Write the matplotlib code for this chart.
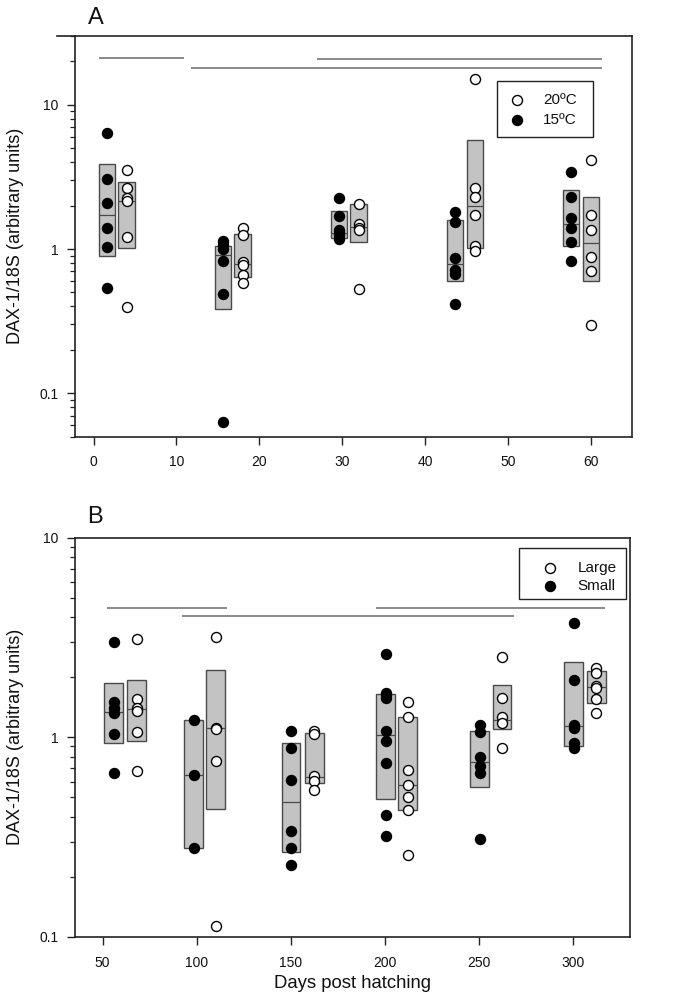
import matplotlib
matplotlib.use('Agg')
import matplotlib.pyplot as plt
from matplotlib.patches import Rectangle
from matplotlib.lines import Line2D
from matplotlib.ticker import FixedLocator, LogLocator, NullFormatter, FixedFormatter

plt.rcParams['font.family'] = ['Liberation Sans', 'DejaVu Sans']

# ---------------- Panel A data (temperature) ----------------
a_days_15 = [1.6, 15.6, 29.6, 43.6, 57.6]
a_days_20 = [4.0, 18.0, 32.0, 46.0, 60.0]
a_pts_15 = [
    [6.36, 3.07, 2.07, 1.41, 1.03, 0.533],
    [1.14, 1.07, 1.00, 0.82, 0.49, 0.0635],
    [2.26, 1.69, 1.35, 1.29, 1.25, 1.18],
    [1.81, 1.54, 0.868, 0.713, 0.676, 0.413],
    [3.42, 2.29, 1.63, 1.39, 1.12, 0.828],
]
a_box_15 = [(0.896, 1.72, 3.91), (0.381, 0.906, 1.05), (1.19, 1.29, 1.85),
            (0.605, 0.782, 1.60), (1.05, 1.50, 2.58)]
a_pts_20 = [
    [3.55, 2.65, 2.25, 2.15, 1.22, 0.397],
    [1.39, 1.25, 0.815, 0.773, 0.659, 0.577],
    [2.06, 1.48, 1.41, 1.36, 0.53],
    [15.1, 2.63, 2.29, 1.73, 1.05, 0.966],
    [4.12, 1.71, 1.36, 0.882, 0.701, 0.297],
]
a_box_20 = [(1.01, 2.17, 2.90), (0.635, 0.785, 1.28), (1.12, 1.42, 2.05),
            (1.01, 1.98, 5.73), (0.599, 1.11, 2.29)]
a_sig = [(0.6, 10.9, 21.1), (27.0, 61.4, 20.9), (11.8, 61.4, 18.1)]
a_xticks = [0, 10, 20, 30, 40, 50, 60]

# ---------------- Panel B data (size) ----------------
b_days_small = [56.0, 98.3, 150.0, 200.2, 250.3, 300.2]
b_days_large = [68.2, 110.1, 162.3, 212.0, 262.0, 312.2]
b_pts_small = [
    [3.0, 1.51, 1.40, 1.32, 1.04, 0.66],
    [1.22, 0.65, 0.28],
    [1.07, 0.888, 0.61, 0.341, 0.28, 0.23],
    [2.62, 1.67, 1.63, 1.57, 1.08, 0.96, 0.741, 0.409, 0.321],
    [1.15, 1.06, 0.795, 0.719, 0.661, 0.311],
    [3.75, 1.94, 1.15, 1.11, 0.934, 0.882],
]
b_box_small = [(0.934, 1.34, 1.88), (0.28, 0.65, 1.22), (0.267, 0.475, 0.934),
               (0.491, 1.03, 1.64), (0.562, 0.753, 1.08), (0.909, 1.14, 2.39)]
b_pts_large = [
    [3.10, 1.55, 1.41, 1.36, 1.06, 0.679],
    [3.19, 1.12, 1.10, 0.762, 0.113],
    [1.08, 1.04, 0.641, 0.603, 0.545],
    [1.50, 1.27, 0.689, 0.575, 0.503, 0.433, 0.258],
    [2.53, 1.58, 1.27, 1.18, 0.885],
    [2.22, 2.09, 1.81, 1.76, 1.55, 1.32],
]
b_box_large = [(0.963, 1.38, 1.93), (0.438, 1.11, 2.17), (0.59, 0.631, 1.05),
               (0.433, 0.575, 1.27), (1.10, 1.22, 1.82), (1.48, 1.79, 2.14)]
b_sig = [(52.1, 116.0, 4.46), (92.1, 268.2, 4.06), (194.9, 316.6, 4.46)]
b_xticks = [50, 100, 150, 200, 250, 300]

BOX_FC = '#c3c3c3'
BOX_EC = '#4a4a4a'
SIG_C = '#808080'
W, H = 685, 1008

fig = plt.figure(figsize=(W / 100, H / 100), dpi=100)


def px_axes(l, r, t, b):
    return [l / W, 1 - b / H, (r - l) / W, (b - t) / H]


A_PX = (75.3, 632.3, 36.0, 436.7)
B_PX = (75.3, 630.0, 537.7, 937.0)
axA = fig.add_axes(px_axes(*A_PX))
axB = fig.add_axes(px_axes(*B_PX))


def draw_groups(ax, days, pts, boxes, width, filled):
    for d, (q1, med, q3) in zip(days, boxes):
        ax.add_patch(Rectangle((d - width / 2, q1), width, q3 - q1,
                               facecolor=BOX_FC, edgecolor=BOX_EC, lw=1.0, zorder=2))
        ax.plot([d - width / 2, d + width / 2], [med, med], color=BOX_EC,
                lw=0.9, zorder=2.5, solid_capstyle='butt')
    for d, vals in zip(days, pts):
        ax.plot([d] * len(vals), vals, linestyle='none', marker='o', markersize=7.2,
                markerfacecolor='black' if filled else 'white',
                markeredgecolor='black', markeredgewidth=1.0, zorder=3, clip_on=False)


def style_axis(ax, xlim, ylim, xticks):
    ax.set_yscale('log')
    ax.set_xlim(*xlim)
    ax.set_ylim(*ylim)
    ax.xaxis.set_major_locator(FixedLocator(xticks))
    ax.set_xticklabels([str(t) for t in xticks])
    ax.yaxis.set_major_locator(FixedLocator([0.1, 1, 10]))
    ax.yaxis.set_major_formatter(FixedFormatter(['0.1', '1', '10']))
    ax.yaxis.set_minor_locator(LogLocator(base=10, subs=range(2, 10)))
    ax.yaxis.set_minor_formatter(NullFormatter())
    ax.tick_params(axis='both', which='major', direction='out', length=6, width=1.0,
                   labelsize=10, color='#222222', labelcolor='#111111')
    ax.tick_params(axis='y', which='major', pad=6)
    ax.tick_params(axis='x', which='major', pad=7.5)
    ax.tick_params(axis='y', which='minor', direction='out', length=3.5, width=0.9,
                   color='#222222')
    ax.tick_params(top=False, right=False, which='both')
    for s in ax.spines.values():
        s.set_linewidth(1.2)
        s.set_color('#222222')


def draw_sig(ax, sig):
    for x0, x1, y in sig:
        ax.plot([x0, x1], [y, y], color=SIG_C, lw=1.3, zorder=1, solid_capstyle='butt')


def manual_legend(ax, axpx, box, mark_x, text_x, rows):
    l, r, t, b = axpx

    def fx(px):
        return (px - l) / (r - l)

    def fy(py):
        return (b - py) / (b - t)

    bl, br, bt, bb = box
    ax.add_patch(Rectangle((fx(bl), fy(bb)), fx(br) - fx(bl), fy(bt) - fy(bb),
                           transform=ax.transAxes, facecolor='white',
                           edgecolor='#222222', lw=1.0, zorder=4))
    for py, label, filled in rows:
        ax.add_line(Line2D([fx(mark_x)], [fy(py)], transform=ax.transAxes,
                           linestyle='none', marker='o', markersize=7.2,
                           markerfacecolor='black' if filled else 'white',
                           markeredgecolor='black', markeredgewidth=1.0, zorder=5))
        ax.text(fx(text_x), fy(py), label, transform=ax.transAxes, fontsize=11,
                va='center', ha='left', color='#111111', zorder=5)


# Panel A
style_axis(axA, (-2.2, 65.0), (0.05, 30), a_xticks)
draw_sig(axA, a_sig)
draw_groups(axA, a_days_15, a_pts_15, a_box_15, 2.0, True)
draw_groups(axA, a_days_20, a_pts_20, a_box_20, 2.0, False)
manual_legend(axA, A_PX, (496.7, 593.3, 81.0, 137.3), 516.7, 543,
              [(100.0, '20ºC', False), (120.0, '15ºC', True)])
fig.add_artist(Line2D([57 / W, 75.3 / W], [1 - 36 / H, 1 - 36 / H], color='#222222', lw=1.2))

# Panel B
style_axis(axB, (35.5, 330.0), (0.1, 10), b_xticks)
draw_sig(axB, b_sig)
draw_groups(axB, b_days_small, b_pts_small, b_box_small, 10.0, True)
draw_groups(axB, b_days_large, b_pts_large, b_box_large, 10.0, False)
manual_legend(axB, B_PX, (519.0, 626.0, 547.7, 599.3), 550, 577.3,
              [(568.3, 'Large', False), (586.0, 'Small', True)])

for axpx in (A_PX, B_PX):
    fig.text(16 / W, 1 - (axpx[2] + axpx[3]) / 2 / H, 'DAX-1/18S (arbitrary units)',
             rotation=90, fontsize=13, ha='center', va='center', color='#111111')

fig.text(95.7 / W, 1 - 18.3 / H, 'A', fontsize=17, ha='center', va='center', color='#111111')
fig.text(95.0 / W, 1 - 516.7 / H, 'B', fontsize=17, ha='center', va='center', color='#111111')
fig.text(352.5 / W, 1 - 983 / H, 'Days post hatching', fontsize=13.3, ha='center',
         va='center', color='#111111')

fig.savefig('out.png', dpi=100)
